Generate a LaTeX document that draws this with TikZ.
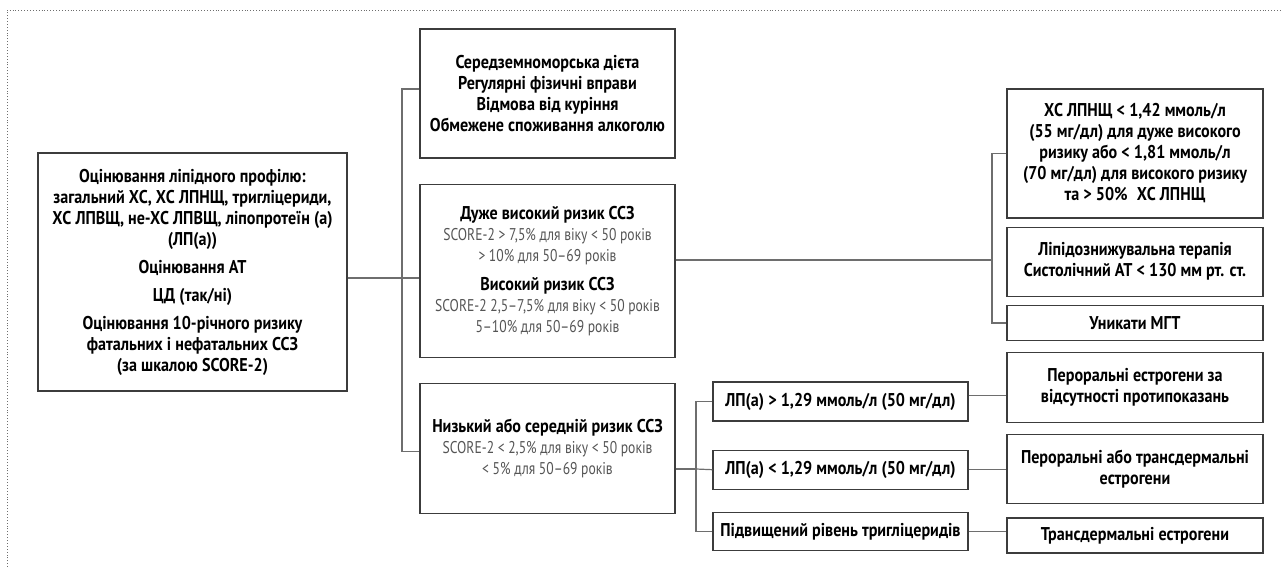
\documentclass[tikz,border=0pt]{standalone}
\usepackage{fontspec}
\setmainfont[FakeStretch=0.87]{PT Sans}
\newfontfamily\notefont[FakeStretch=0.8]{PT Sans}
\usepackage{xcolor}
\usepackage{tikz}
\usetikzlibrary{positioning}
\definecolor{boxgrey}{RGB}{60,60,60}
\definecolor{linegrey}{RGB}{110,110,110}
\definecolor{notegrey}{RGB}{85,85,85}
\newcommand{\greytext}[1]{{\notefont\mdseries\fontsize{17}{21}\selectfont\color{notegrey}#1}}

\begin{document}
\begin{tikzpicture}[
  x=1pt, y=-1pt,
  box/.style={rectangle, draw=boxgrey, line width=1.2pt, fill=white,
    align=center, minimum width=255pt, inner sep=2pt,
    font=\fontsize{18.5}{21}\selectfont\bfseries},
  link/.style={draw=linegrey, line width=1.2pt},
  frame/.style={draw=linegrey, line width=0.9pt, dotted}
]
\useasboundingbox (0,0) rectangle (1282,567);
\draw[frame] (7,567) -- (7,10) -- (1282,10);

% left column
\node[box, minimum width=309pt, minimum height=238pt] (assess) at (192.5,272)
  {Оцінювання ліпідного профілю:\\
   загальний ХС, ХС ЛПНЩ, тригліцериди,\\
   ХС ЛПВЩ, не-ХС ЛПВЩ, ліпопротеїн (а)\\
   (ЛП(а))\\[7pt]
   Оцінювання АТ\\[7pt]
   ЦД (так/ні)\\[7pt]
   Оцінювання 10-річного ризику\\
   фатальних і нефатальних ССЗ\\
   (за шкалою SCORE-2)};

% middle column
\node[box, minimum height=129pt] (lifestyle) at (547.5,93.5)
  {Середземноморська дієта\\
   Регулярні фізичні вправи\\
   Відмова від куріння\\
   Обмежене споживання алкоголю};
\node[box, minimum height=173pt, below=25pt of lifestyle] (highrisk)
  {Дуже високий ризик ССЗ\\
   \greytext{SCORE-2 > 7,5\% для віку < 50 років}\\
   \greytext{> 10\% для 50–69 років}\\[8pt]
   Високий ризик ССЗ\\
   \greytext{SCORE-2 2,5–7,5\% для віку < 50 років}\\
   \greytext{5–10\% для 50–69 років}};
\node[box, minimum height=130pt, below=25pt of highrisk] (lowrisk)
  {Низький або середній ризик ССЗ\\
   \greytext{SCORE-2 < 2,5\% для віку < 50 років}\\
   \greytext{< 5\% для 50–69 років}};

% low-risk branches
\node[box, minimum height=39pt] (lpahigh) at (840.5,401.5)
  {ЛП(а) > 1,29 ммоль/л (50 мг/дл)};
\node[box, minimum height=39pt, below=28pt of lpahigh] (lpalow)
  {ЛП(а) < 1,29 ммоль/л (50 мг/дл)};
\node[box, minimum height=38pt, below=22pt of lpalow] (tghigh)
  {Підвищений рівень тригліцеридів};

% right column
\node[box, minimum width=256pt, minimum height=129pt] (ldlgoal) at (1135,153.5)
  {ХС ЛПНЩ < 1,42 ммоль/л\\
   (55 мг/дл) для дуже високого\\
   ризику або < 1,81 ммоль/л\\
   (70 мг/дл) для високого ризику\\
   та > 50\%\enspace ХС ЛПНЩ};
\node[box, minimum width=256pt, minimum height=69pt, below=8pt of ldlgoal] (therapy)
  {Ліпідознижувальна терапія\\
   Систолічний АТ < 130 мм рт. ст.};
\node[box, minimum width=256pt, minimum height=35pt, below=8pt of therapy] (nomht)
  {Уникати МГТ};
\node[box, minimum width=256pt, minimum height=70pt, below=11pt of nomht] (oral)
  {Пероральні естрогени за\\
   відсутності протипоказань};
\node[box, minimum width=256pt, minimum height=69pt, below=11pt of oral] (oraltd)
  {Пероральні або трансдермальні\\
   естрогени};
\node[box, minimum width=256pt, minimum height=35pt, below=13pt of oraltd] (transd)
  {Трансдермальні естрогени};

% buses
\coordinate (lbus) at (402,278);
\coordinate (rbus) at (992,260);
\coordinate (sbus) at (696,469);

\draw[link] (assess.east |- lbus) -- (highrisk.west |- lbus);
\draw[link] ([yshift=4.5pt]lifestyle.west) -| (lbus) |- ([yshift=-3pt]lowrisk.west);
\draw[link] (highrisk.east |- rbus) -- (rbus);
\draw[link] (ldlgoal.west) -| (rbus) |- (nomht.west);
\draw[link] (lowrisk.east |- sbus) -- (sbus);
\draw[link] (lpahigh.west) -| (sbus) |- (tghigh.west);
\draw[link] (sbus) -- (lpalow.west);
\draw[link] ([yshift=6pt]lpahigh.east) -- ([yshift=6pt]oral.west |- lpahigh.east);
\draw[link] (lpalow.east) -- (oraltd.west |- lpalow.east);
\draw[link] (tghigh.east) -- (transd.west |- tghigh.east);
\end{tikzpicture}
\end{document}
